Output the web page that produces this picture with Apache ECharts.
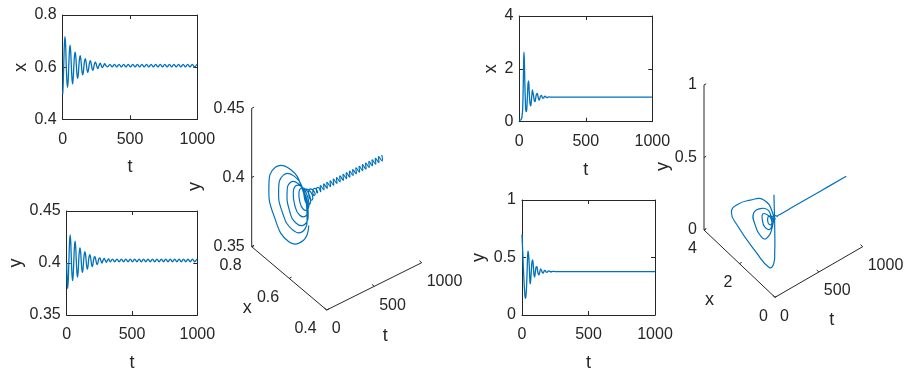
<!DOCTYPE html>
<html>
<head>
<meta charset="utf-8">
<script src="https://cdn.jsdelivr.net/npm/echarts@6/dist/echarts.min.js"></script>
<style>
html,body{margin:0;padding:0;background:#ffffff;}
#chart{width:907px;height:373px;}
</style>
</head>
<body>
<div id="chart"></div>
<script>
// ---------------- data ----------------
// system A (left panels)
const tA = [0, 2.9, 7.6, 12.3, 17.0, 21.7, 26.4, 31.1, 35.8, 40.5, 45.2, 49.9, 54.6, 59.3, 64.0, 68.7, 73.4, 78.1, 82.8, 87.5,
  92.2, 96.9, 101.6, 106.3, 111.0, 115.7, 120.4, 125.1, 129.8, 134.5, 139.2, 143.9, 148.6, 153.3, 158.0, 162.7, 167.4, 172.1, 176.8, 181.5,
  186.2, 190.9, 195.6, 200.3, 205.0, 209.7, 214.4, 219.1, 223.8, 228.5, 233.2, 237.9, 242.6, 247.3, 252.0, 256.7, 261.4,
  269.9, 278.4, 286.9, 295.4, 303.9, 312.4, 320.9,
  333.7, 350.7, 367.7, 384.7, 401.7, 418.7, 435.7, 452.7, 469.7, 486.7, 503.7, 520.7, 537.7, 554.7, 571.7, 588.7, 605.7, 622.7, 639.7, 656.7,
  673.7, 690.7, 707.7, 724.7, 741.7, 758.7, 775.7, 792.7, 809.7, 826.7, 843.7, 860.7, 877.7, 894.7, 911.7, 928.7, 945.7, 962.7, 979.7, 996.7];
const xA = [0.496, 0.525, 0.606, 0.685, 0.717, 0.685, 0.606, 0.547, 0.523, 0.547, 0.606, 0.661, 0.684, 0.661, 0.606, 0.557, 0.536, 0.557, 0.606, 0.643,
  0.658, 0.643, 0.606, 0.571, 0.557, 0.571, 0.606, 0.633, 0.644, 0.633, 0.606, 0.581, 0.570, 0.581, 0.606, 0.625, 0.633, 0.625, 0.606, 0.588,
  0.580, 0.588, 0.606, 0.619, 0.625, 0.619, 0.606, 0.593, 0.588, 0.593, 0.606, 0.615, 0.619, 0.615, 0.606, 0.598, 0.594,
  0.606, 0.615, 0.606, 0.598, 0.606, 0.613, 0.606,
  0.601, 0.611, 0.601, 0.611, 0.601, 0.611, 0.601, 0.611, 0.601, 0.611, 0.601, 0.611, 0.601, 0.611, 0.601, 0.611, 0.601, 0.611, 0.601, 0.611,
  0.601, 0.611, 0.601, 0.611, 0.601, 0.611, 0.601, 0.611, 0.601, 0.611, 0.601, 0.611, 0.601, 0.611, 0.601, 0.611, 0.601, 0.611, 0.601, 0.611];
const yA = [0.400, 0.386, 0.3755, 0.3841, 0.4025, 0.4198, 0.427, 0.4198, 0.4025, 0.3887, 0.383, 0.3887, 0.4025, 0.4156, 0.421, 0.4156, 0.4025, 0.3912, 0.3865, 0.3912,
  0.4025, 0.411, 0.4145, 0.411, 0.4025, 0.3944, 0.391, 0.3944, 0.4025, 0.4085, 0.411, 0.4085, 0.4025, 0.3965, 0.394, 0.3965, 0.4025, 0.4064, 0.408, 0.4064,
  0.4025, 0.3983, 0.3965, 0.3983, 0.4025, 0.405, 0.406, 0.405, 0.4025, 0.3997, 0.3985, 0.3997, 0.4025, 0.4043, 0.405, 0.4043, 0.4025,
  0.400, 0.4025, 0.4045, 0.4025, 0.4007, 0.4025, 0.404,
  0.4012, 0.4038, 0.4012, 0.4038, 0.4012, 0.4038, 0.4012, 0.4038, 0.4012, 0.4038, 0.4012, 0.4038, 0.4012, 0.4038, 0.4012, 0.4038, 0.4012, 0.4038, 0.4012, 0.4038,
  0.4012, 0.4038, 0.4012, 0.4038, 0.4012, 0.4038, 0.4012, 0.4038, 0.4012, 0.4038, 0.4012, 0.4038, 0.4012, 0.4038, 0.4012, 0.4038, 0.4012, 0.4038, 0.4012, 0.4038];

// system B (right panels)
const tB = [0, 5, 10, 15, 20, 25, 29, 33, 35, 38, 41, 45, 50, 55, 59, 62, 66, 70, 75, 80,
  86, 90, 95, 99, 103, 108, 113, 118, 123, 128, 135, 140, 143, 148, 153, 158, 165, 170, 176, 182,
  188, 195, 202, 210, 220, 232, 250, 400, 600, 800, 1000];
const xB = [0.06, 0.055, 0.06, 0.09, 0.18, 0.45, 1.2, 2.3, 2.63, 2.3, 1.6, 0.9, 0.38, 0.42, 0.75, 1.05, 1.45, 1.54, 1.1, 0.72,
  0.60, 0.75, 1.05, 1.2, 1.2, 0.95, 0.8, 0.76, 0.88, 1.02, 1.07, 0.97, 0.90, 0.82, 0.85, 0.95, 1.0, 0.96, 0.89, 0.89,
  0.95, 0.97, 0.93, 0.91, 0.94, 0.93, 0.93, 0.93, 0.93, 0.93, 0.93];
const yB = [0.70, 0.56, 0.42, 0.30, 0.20, 0.145, 0.16, 0.22, 0.27, 0.36, 0.47, 0.555, 0.52, 0.42, 0.30, 0.27, 0.31, 0.38, 0.46, 0.48,
  0.41, 0.35, 0.33, 0.36, 0.40, 0.42, 0.415, 0.38, 0.355, 0.35, 0.38, 0.40, 0.40, 0.385, 0.368, 0.365, 0.378, 0.388, 0.385, 0.373,
  0.371, 0.38, 0.384, 0.378, 0.376, 0.379, 0.378, 0.378, 0.378, 0.378, 0.378];

// tick labels
const tTicks = [0, 500, 1000];
const xATicks = [0.4, 0.6, 0.8];
const yATicks = [0.35, 0.4, 0.45];
const xBTicks = [0, 2, 4];
const yBTicks = [0, 0.5, 1];

// ---------------- styling / layout ----------------
const BLUE = '#0072BD', AXC = '#262626';
const FONT = '"Liberation Sans", Arial, Helvetica, sans-serif';
const FS = 16, NFS = 18;
const fmt = v => String(v);

const panels = [
  {left: 62.7, top: 15, width: 134.6, height: 104.3, t: tA, v: xA, ticks: xATicks, name: 'x', nameGap: 33},
  {left: 66.7, top: 211, width: 130.6, height: 104.7, t: tA, v: yA, ticks: yATicks, name: 'y', nameGap: 42},
  {left: 519.3, top: 16, width: 133, height: 105.7, t: tB, v: xB, ticks: xBTicks, name: 'x', nameGap: 16},
  {left: 522, top: 200, width: 133, height: 115.7, t: tB, v: yB, ticks: yBTicks, name: 'y', nameGap: 34}
];

const grids = [], xAxes = [], yAxes = [], series = [];
const lineAx = {show: true, onZero: false, lineStyle: {color: AXC, width: 1}};
const tickIn = {show: true, inside: true, length: 4, lineStyle: {color: AXC, width: 1}};
const lblStyle = {color: AXC, fontSize: FS, fontFamily: FONT, formatter: fmt};

panels.forEach((p, gi) => {
  grids.push({left: p.left, top: p.top, width: p.width, height: p.height, containLabel: false});
  const tInt = tTicks[1] - tTicks[0];
  const vInt = +(p.ticks[1] - p.ticks[0]).toFixed(6);
  xAxes.push({gridIndex: gi, type: 'value', position: 'bottom', min: tTicks[0], max: tTicks[tTicks.length - 1], interval: tInt,
    axisLine: lineAx, axisTick: tickIn, splitLine: {show: false},
    axisLabel: Object.assign({margin: 12}, lblStyle),
    name: 't', nameLocation: 'middle', nameGap: 39, nameTextStyle: {color: AXC, fontSize: NFS, fontFamily: FONT}});
  xAxes.push({gridIndex: gi, type: 'value', position: 'top', min: tTicks[0], max: tTicks[tTicks.length - 1], interval: tInt,
    axisLine: lineAx, axisTick: tickIn, splitLine: {show: false}, axisLabel: {show: false}});
  yAxes.push({gridIndex: gi, type: 'value', position: 'left', min: p.ticks[0], max: p.ticks[p.ticks.length - 1], interval: vInt,
    axisLine: lineAx, axisTick: tickIn, splitLine: {show: false},
    axisLabel: Object.assign({margin: 6}, lblStyle),
    name: p.name, nameLocation: 'middle', nameGap: p.nameGap, nameRotate: 90,
    nameTextStyle: {color: AXC, fontSize: NFS, fontFamily: FONT}});
  yAxes.push({gridIndex: gi, type: 'value', position: 'right', min: p.ticks[0], max: p.ticks[p.ticks.length - 1], interval: vInt,
    axisLine: lineAx, axisTick: tickIn, splitLine: {show: false}, axisLabel: {show: false}});
  series.push({type: 'line', xAxisIndex: 2 * gi, yAxisIndex: 2 * gi, data: p.t.map((t, i) => [t, p.v[i]]),
    showSymbol: false, symbol: 'none', smooth: 0.4, lineStyle: {color: BLUE, width: 1.3}, silent: true});
});

// overlay grid (pixel space) for the two 3-D views
const OV = 8;
grids.push({left: 0, top: 0, width: 907, height: 373});
xAxes.push({gridIndex: 4, type: 'value', min: 0, max: 907, show: false});
yAxes.push({gridIndex: 4, type: 'value', min: 0, max: 373, inverse: true, show: false});

const views = [
  {O: [326.7, 310], Vt: [95, -47.3], Vx: [-75, -63.3], Vy: [0, -138.4], t: tA, x: xA, y: yA, xt: xATicks, yt: yATicks,
   lab: {x: [-10, 19], t: [5, 19], y: [-7, 0]}, names: {t: [11, 50], x: [-42, 30], y: [-57, 9]}},
  {O: [775, 297.3], Vt: [87.7, -50.6], Vx: [-71, -67.3], Vy: [0, -145], t: tB, x: xB, y: yB, xt: xBTicks, yt: yBTicks,
   lab: {x: [-7, 19], t: [5, 19], y: [-7, 0]}, names: {t: [13, 48], x: [-30, 36], y: [-41, 9]}}
];

function seg(a, b) {
  series.push({type: 'line', xAxisIndex: OV, yAxisIndex: OV, data: [a, b], showSymbol: false, symbol: 'none',
    lineStyle: {color: AXC, width: 1}, silent: true});
}

views.forEach(v => {
  const t0 = tTicks[0], t1 = tTicks[tTicks.length - 1];
  const x0 = v.xt[0], x1 = v.xt[v.xt.length - 1];
  const y0 = v.yt[0], y1 = v.yt[v.yt.length - 1];
  const P = (t, x, y) => {
    const a = (t - t0) / (t1 - t0), b = (x - x0) / (x1 - x0), c = (y - y0) / (y1 - y0);
    return [v.O[0] + a * v.Vt[0] + b * v.Vx[0] + c * v.Vy[0], v.O[1] + a * v.Vt[1] + b * v.Vx[1] + c * v.Vy[1]];
  };
  // axes
  seg(P(t0, x0, y0), P(t1, x0, y0));
  seg(P(t0, x0, y0), P(t0, x1, y0));
  seg(P(t0, x1, y0), P(t0, x1, y1));
  const dx = (x1 - x0) * 0.03, dt = (t1 - t0) * 0.025;
  tTicks.forEach(tk => seg(P(tk, x0, y0), P(tk, x0 + dx, y0)));
  v.xt.forEach(xk => seg(P(t0, xk, y0), P(t0 + dt, xk, y0)));
  v.yt.forEach(yk => seg(P(t0, x1, yk), P(t0 + dt, x1, yk)));
  // trajectory (custom series: polyline through api.coord, unconstrained smoothing)
  const pts = v.t.map((t, i) => P(t, v.x[i], v.y[i]));
  series.push({type: 'custom', xAxisIndex: OV, yAxisIndex: OV, data: [0], silent: true, clip: false,
    renderItem: (params, api) => ({
      type: 'polyline',
      shape: {points: pts.map(p => api.coord(p)), smooth: 0.5},
      style: {stroke: BLUE, lineWidth: 1.2, fill: 'none'}
    })});
  // labels
  const items = [];
  const lab = (pt, text, align, off, size, rot) => items.push({value: [pt[0] + off[0], pt[1] + off[1]], label: {show: true,
    formatter: text, position: 'inside', align: align, verticalAlign: 'middle', color: AXC, fontSize: size, fontFamily: FONT,
    textBorderWidth: 0, textBorderColor: 'transparent', textShadowBlur: 0, opacity: 1, rotate: rot || 0}});
  tTicks.forEach(tk => lab(P(tk, x0, y0), fmt(tk), 'left', v.lab.t, FS));
  v.xt.forEach(xk => lab(P(t0, xk, y0), fmt(xk), 'right', v.lab.x, FS));
  v.yt.forEach(yk => lab(P(t0, x1, yk), fmt(yk), 'right', v.lab.y, FS));
  lab(P((t0 + t1) / 2, x0, y0), 't', 'center', v.names.t, NFS);
  lab(P(t0, (x0 + x1) / 2, y0), 'x', 'center', v.names.x, NFS);
  lab(P(t0, x1, (y0 + y1) / 2), 'y', 'center', v.names.y, NFS, 90);
  series.push({type: 'scatter', xAxisIndex: OV, yAxisIndex: OV, symbol: 'circle', symbolSize: 1,
    itemStyle: {color: 'rgba(0,0,0,0)'}, labelLayout: {hideOverlap: false}, data: items, silent: true});
});

const chart = echarts.init(document.getElementById('chart'), null, {renderer: 'canvas'});
chart.setOption({
  animation: false,
  backgroundColor: '#ffffff',
  grid: grids, xAxis: xAxes, yAxis: yAxes, series: series
});
</script>
</body>
</html>
